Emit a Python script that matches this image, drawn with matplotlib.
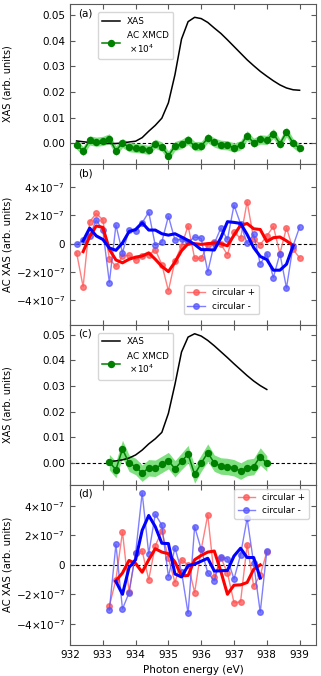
import matplotlib
matplotlib.use("Agg")
import matplotlib.pyplot as plt
import numpy as np

# ---------------- data ----------------
# panel (a)/(b) energy grid: 932.2 .. 939.0 step 0.2
energy_ab = [932.2, 932.4, 932.6, 932.8, 933.0, 933.2, 933.4, 933.6, 933.8, 934.0,
             934.2, 934.4, 934.6, 934.8, 935.0, 935.2, 935.4, 935.6, 935.8, 936.0,
             936.2, 936.4, 936.6, 936.8, 937.0, 937.2, 937.4, 937.6, 937.8, 938.0,
             938.2, 938.4, 938.6, 938.8, 939.0]
xas_a = [0.0009, 0.0006, 0.0003, 0.0001, 0.0000, -0.0001, -0.0001, 0.0001, 0.0005, 0.0008,
         0.0022, 0.0047, 0.0070, 0.0098, 0.0158, 0.0268, 0.0407, 0.0475, 0.0492, 0.0487,
         0.0472, 0.0450, 0.0429, 0.0404, 0.0378, 0.0352, 0.0326, 0.0303, 0.0281, 0.0262,
         0.0244, 0.0228, 0.0216, 0.0209, 0.0207]
xmcd_a = [-0.0005, -0.0031, 0.0011, 0.0006, 0.0009, 0.0018, -0.0029, 0.0001, -0.0015, -0.0018,
          -0.0021, -0.0026, -0.0002, -0.0013, -0.0049, -0.0011, -0.0003, 0.0013, -0.0011, -0.0011,
          0.0020, 0.0003, -0.0006, -0.0008, -0.0017, -0.0008, 0.0030, 0.0002, 0.0015, 0.0013,
          0.0038, -0.0002, 0.0044, 0.0001, -0.0020]
xmcd_a_err = [0.0018, 0.0018, 0.0018, 0.0018, 0.0018, 0.0019, 0.0019, 0.0018, 0.0018, 0.0018,
              0.0018, 0.0018, 0.0018, 0.0018, 0.0019, 0.0018, 0.0018, 0.0018, 0.0018, 0.0018,
              0.0018, 0.0018, 0.0018, 0.0018, 0.0018, 0.0018, 0.0019, 0.0018, 0.0018, 0.0018,
              0.0019, 0.0018, 0.0019, 0.0018, 0.0018]

# panel (b), units of 1e-7
cplus_b = [-0.63, -3.04, 1.54, 2.13, 1.68, -1.05, -1.61, -0.87, -0.82, -1.15,
           -0.90, -0.80, -0.42, -1.47, -3.32, -1.22, -0.16, 1.26, -1.03, -1.03,
           -0.12, 0.12, -0.05, -0.77, 0.82, 0.37, 2.97, 0.33, -0.07, 0.54,
           1.22, -0.70, 1.12, -0.40, -1.00]
cminus_b = [-0.05, 0.23, 0.55, 1.66, 0.96, -2.74, 1.31, -0.63, 0.96, 0.87,
            1.47, 2.22, -0.12, 0.12, 1.94, 0.26, 0.30, 0.10, 0.47, 0.37,
            -1.99, 0.02, 1.10, 0.30, 2.71, 1.40, 0.02, 0.65, -1.43, -0.70,
            -2.39, -0.70, -3.13, -0.16, 1.17]
energy_b_smooth = energy_ab[1:-1]
cplus_b_smooth = [-0.56, 0.50, 1.25, 1.15, -0.40, -1.15, -1.35, -1.10, -0.95, -0.87,
                  -0.65, -1.10, -1.60, -1.97, -1.30, -0.50, 0.00, 0.00, -0.05, 0.00,
                  0.05, 0.00, -0.15, 0.60, 1.30, 1.42, 1.05, 1.00, 0.15, 0.42,
                  0.47, 0.20, -0.12]
cminus_b_smooth = [0.20, 1.10, 0.55, 0.30, -0.30, -0.47, 0.05, 0.85, 1.00, 1.47,
                   0.96, 0.96, 0.70, 0.60, 0.70, 0.47, 0.23, -0.05, -0.42, -0.42,
                   -0.45, 0.42, 1.55, 1.50, 1.43, 0.65, -0.28, -0.90, -1.12, -1.87,
                   -1.87, -1.45, -0.16]

# panel (c)/(d) energy grid: 933.2 .. 938.0 step 0.2
energy_cd = [933.2, 933.4, 933.6, 933.8, 934.0, 934.2, 934.4, 934.6, 934.8, 935.0,
             935.2, 935.4, 935.6, 935.8, 936.0, 936.2, 936.4, 936.6, 936.8, 937.0,
             937.2, 937.4, 937.6, 937.8, 938.0]
xas_c = [0.0005, 0.0008, 0.0012, 0.0019, 0.0031, 0.0050, 0.0074, 0.0094, 0.0119, 0.0193,
         0.0306, 0.0432, 0.0490, 0.0503, 0.0494, 0.0477, 0.0456, 0.0433, 0.0410, 0.0386,
         0.0363, 0.0340, 0.0319, 0.0301, 0.0286]
xmcd_c = [0.0003, -0.0026, 0.0054, -0.0001, -0.0014, -0.0040, -0.0019, -0.0021, -0.0006, 0.0009,
          -0.0023, 0.0006, 0.0034, -0.0045, -0.0001, 0.0040, -0.0001, -0.0012, -0.0014, -0.0019,
          -0.0032, -0.0018, -0.0014, 0.0025, -0.0002]
xmcd_c_err = [0.0030, 0.0032, 0.0034, 0.0032, 0.0032, 0.0032, 0.0032, 0.0032, 0.0032, 0.0032,
              0.0032, 0.0032, 0.0034, 0.0034, 0.0032, 0.0034, 0.0032, 0.0032, 0.0032, 0.0032,
              0.0032, 0.0032, 0.0032, 0.0034, 0.0030]

# panel (d), units of 1e-7
cplus_d = [-2.80, -1.00, 2.25, -1.85, 0.80, 0.95, -1.00, 1.30, 2.30, 0.45,
           -1.20, 0.35, 0.00, -1.88, 1.05, 3.40, -0.85, 0.50, -0.55, -2.57,
           -2.52, 1.38, -1.45, -0.70, 0.88]
cminus_d = [-3.08, 1.40, -3.00, -1.90, 0.78, 4.90, 0.76, 3.45, 2.70, -0.80,
            1.17, -0.46, -3.30, 2.60, 1.05, -0.53, -1.08, 0.53, 0.41, -0.97,
            0.69, 3.17, 0.10, -3.22, 0.92]
energy_d_smooth = energy_cd[1:-1]
cplus_d_smooth = [-1.08, -0.55, 0.30, 0.10, -0.50, 0.35, 1.10, 0.87, 0.76, 0.20,
                  -0.75, -0.72, 0.35, 0.64, 0.87, 0.94, -0.45, -2.00, -1.38, -1.36,
                  -1.20, -0.30, 0.00]
cminus_d_smooth = [-1.13, -2.00, -0.18, 0.35, 2.35, 3.36, 2.60, 1.47, 1.45, -0.62,
                   -0.82, -0.05, 0.05, 0.25, 0.45, -0.42, -0.40, -0.38, 0.60, 1.13,
                   0.50, 0.50, -0.90]

xticks = [932, 933, 934, 935, 936, 937, 938, 939]
ac_ticks = [-4e-7, -2e-7, 0, 2e-7, 4e-7]
ac_ticklabels = [r"$-4{\times}10^{-7}$", r"$-2{\times}10^{-7}$", "0",
                 r"$2{\times}10^{-7}$", r"$4{\times}10^{-7}$"]
panel_labels = ["(a)", "(b)", "(c)", "(d)"]

# ---------------- plot ----------------
FS = 7.5
LFS = 6.4
plt.rcParams['font.family'] = ['DejaVu Sans']
plt.rcParams['mathtext.fontset'] = 'dejavusans'
plt.rcParams['font.size'] = FS

fig = plt.figure(figsize=(3.21, 6.76), dpi=100)
gs = fig.add_gridspec(4, 1, left=70/321, right=316/321, top=1-4/676, bottom=1-645/676, hspace=0)
axes = [fig.add_subplot(gs[i]) for i in range(4)]

spine_col = '0.35'
for ax in axes:
    for s in ax.spines.values():
        s.set_color(spine_col)
    ax.tick_params(direction='in', top=True, right=True, labelsize=FS, length=3.5,
                   color=spine_col)
    ax.set_xlim(932, 939.5)
    ax.set_xticks(xticks)
    ax.axhline(0, color='black', ls='--', lw=0.8, dashes=(3, 2), zorder=1)

def xas_panel(ax, e, xas, xmcd, err, ylim, lab):
    xmcd = np.array(xmcd); err = np.array(err)
    ax.fill_between(e, xmcd - err, xmcd + err, color='#7fe07f', lw=0, zorder=2)
    ax.plot(e, xas, color='black', lw=1.1, label='XAS', zorder=3)
    ax.plot(e, xmcd, color='green', lw=1.1, marker='o', ms=4.3,
            label='AC XMCD\n $\\times10^4$', zorder=4)
    ax.set_ylim(*ylim)
    ax.set_yticks([0.0, 0.01, 0.02, 0.03, 0.04, 0.05])
    ax.set_yticklabels(["0.00", "0.01", "0.02", "0.03", "0.04", "0.05"])
    ax.set_ylabel('XAS (arb. units)', fontsize=7.0)
    ax.text(0.035, 0.975, lab, transform=ax.transAxes, ha='left', va='top', fontsize=FS)
    ax.legend(loc='upper left', bbox_to_anchor=(0.095, 0.975), fontsize=LFS,
              handlelength=2.0, borderpad=0.5, labelspacing=0.6)

def ac_panel(ax, e, cp, cm, es, cps, cms, ylim, lab, legloc, legbbox):
    ax.plot(e, np.array(cp) * 1e-7, color='#ff5555', alpha=0.75, lw=1.0, marker='o',
            ms=4, label='circular +', zorder=3)
    ax.plot(e, np.array(cm) * 1e-7, color='#5555ff', alpha=0.75, lw=1.0, marker='o',
            ms=4, label='circular -', zorder=3)
    ax.plot(es, np.array(cps) * 1e-7, color='red', lw=2.2, zorder=4)
    ax.plot(es, np.array(cms) * 1e-7, color='blue', lw=2.2, zorder=4)
    ax.set_ylim(*ylim)
    ax.set_yticks(ac_ticks)
    ax.set_yticklabels(ac_ticklabels)
    ax.set_ylabel('AC XAS (arb. units)', fontsize=7.2)
    ax.text(0.035, 0.975, lab, transform=ax.transAxes, ha='left', va='top', fontsize=FS)
    ax.legend(loc=legloc, bbox_to_anchor=legbbox, fontsize=LFS, handlelength=2.0)

xas_panel(axes[0], energy_ab, xas_a, xmcd_a, xmcd_a_err, (-0.0082, 0.0544), panel_labels[0])
ac_panel(axes[1], energy_ab, cplus_b, cminus_b, energy_b_smooth, cplus_b_smooth,
         cminus_b_smooth, (-5.7e-7, 5.6e-7), panel_labels[1], 'lower right', (0.785, 0.035))
xas_panel(axes[2], energy_cd, xas_c, xmcd_c, xmcd_c_err, (-0.0085, 0.0539), panel_labels[2])
ac_panel(axes[3], energy_cd, cplus_d, cminus_d, energy_d_smooth, cplus_d_smooth,
         cminus_d_smooth, (-5.45e-7, 5.45e-7), panel_labels[3], 'upper right', (0.99, 1.0))

for ax in axes[:3]:
    ax.tick_params(labelbottom=False)
axes[3].set_xlabel('Photon energy (eV)', fontsize=FS)

for ax in axes:
    ax.yaxis.set_label_coords(-0.235, 0.5)

fig.savefig('out.png', dpi=100)
